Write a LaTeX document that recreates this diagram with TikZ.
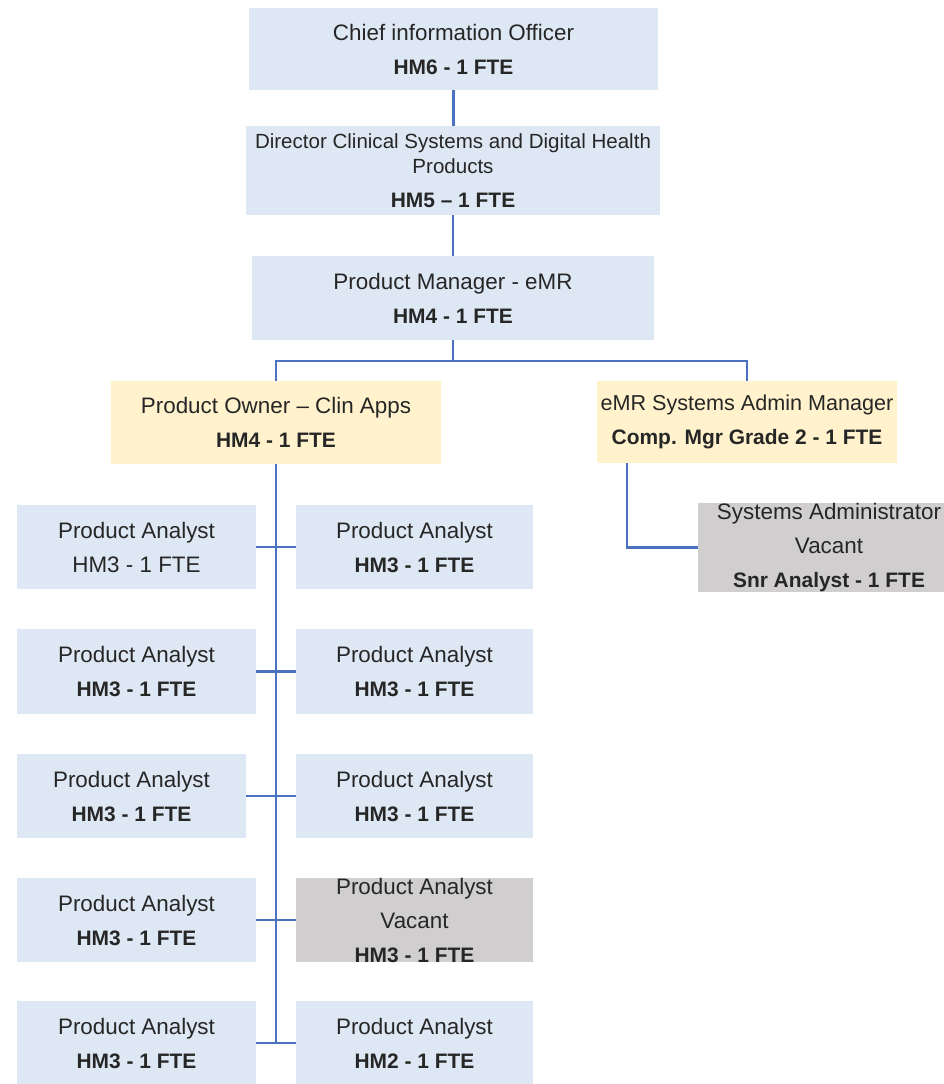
\documentclass[tikz,border=0pt]{standalone}
\usepackage{fontspec}
\setmainfont{Liberation Sans}
\usetikzlibrary{calc}
\definecolor{boxblue}{HTML}{DEE8F4}
\definecolor{boxyellow}{HTML}{FFF2CC}
\definecolor{boxgray}{HTML}{D0CECE}
\definecolor{linkblue}{HTML}{4A72C0}
\definecolor{txt}{HTML}{262626}
\newcommand\hbf[1]{{\fontsize{15.7}{25.5}\selectfont\bfseries #1}}
\tikzset{
  orgbox/.style={rectangle, inner sep=0pt, align=center, text=txt,
    font=\fontsize{16.8}{25.5}\selectfont},
  bluebox/.style={orgbox, fill=boxblue},
  yelbox/.style={orgbox, fill=boxyellow},
  graybox/.style={orgbox, fill=boxgray},
  wh/.style 2 args={minimum width=#1*0.75pt, minimum height=#2*0.75pt},
  conn/.style={draw=linkblue, line width=1.8pt}
}
\begin{document}
\begin{tikzpicture}[x=0.75pt,y=-0.75pt]
\useasboundingbox (0,0) rectangle (943,1084);
% top chain
\node[bluebox, wh={409}{82}] (cio) at (453.5,49) {Chief information Officer\\\hbf{HM6 - 1 FTE}};
\node[bluebox, wh={414}{89}, font=\fontsize{15.4}{25.5}\selectfont] (dir) at (453,170.5) {Director Clinical Systems and Digital Health\\[-6.75pt]Products\\\hbf{HM5 – 1 FTE}};
\node[bluebox, wh={402}{84}] (pm) at (453,298) {Product Manager - eMR\\\hbf{HM4 - 1 FTE}};
\node[yelbox, wh={330}{83}] (po) at (276,422.5) {Product Owner – Clin Apps\\\hbf{HM4 - 1 FTE}};
\node[yelbox, wh={300}{82}, font=\fontsize{16.2}{25.5}\selectfont] (sam) at (747,422) {eMR Systems Admin Manager\\\hbf{Comp. Mgr Grade 2 - 1 FTE}};
\node[graybox, wh={262}{83}] (sa) at (829,547.5) {Systems Administrator\\Vacant\\\hbf{Snr Analyst - 1 FTE}};
% analysts
\node[bluebox, wh={239}{84}] (l1) at (136.5,547) {Product Analyst\\HM3 - 1 FTE};
\node[bluebox, wh={237}{84}] (r1) at (414.5,547) {Product Analyst\\\hbf{HM3 - 1 FTE}};
\node[bluebox, wh={239}{85}] (l2) at (136.5,671.5) {Product Analyst\\\hbf{HM3 - 1 FTE}};
\node[bluebox, wh={237}{85}] (r2) at (414.5,671.5) {Product Analyst\\\hbf{HM3 - 1 FTE}};
\node[bluebox, wh={229}{84}] (l3) at (131.5,796) {Product Analyst\\\hbf{HM3 - 1 FTE}};
\node[bluebox, wh={237}{84}] (r3) at (414.5,796) {Product Analyst\\\hbf{HM3 - 1 FTE}};
\node[bluebox, wh={239}{84}] (l4) at (136.5,920) {Product Analyst\\\hbf{HM3 - 1 FTE}};
\node[graybox, wh={237}{84}] (r4) at (414.5,920) {Product Analyst\\Vacant\\\hbf{HM3 - 1 FTE}};
\node[bluebox, wh={239}{84}] (l5) at (136.5,1043) {Product Analyst\\\hbf{HM3 - 1 FTE}};
\node[bluebox, wh={237}{84}] (r5) at (414.5,1043) {Product Analyst\\\hbf{HM2 - 1 FTE}};
% connectors
\draw[conn] (cio.south) -- (cio.south |- dir.north);
\draw[conn] (dir.south) -- (dir.south |- pm.north);
\draw[conn] (pm.south) -- ++(0,21) -| (po.north);
\draw[conn] (pm.south) ++(0,21) -| (sam.north);
\draw[conn] (po.south) -- (po.south |- l5.east);
\draw[conn] (l1.east) -- (r1.west);
\draw[conn] (l2.east) -- (r2.west);
\draw[conn] (l3.east) -- (r3.west);
\draw[conn] (l4.east) -- (r4.west);
\draw[conn] (l5.east) -- (r5.west);
\draw[conn] ($(sam.south west)+(30,0)$) |- (sa.west);
\end{tikzpicture}
\end{document}
